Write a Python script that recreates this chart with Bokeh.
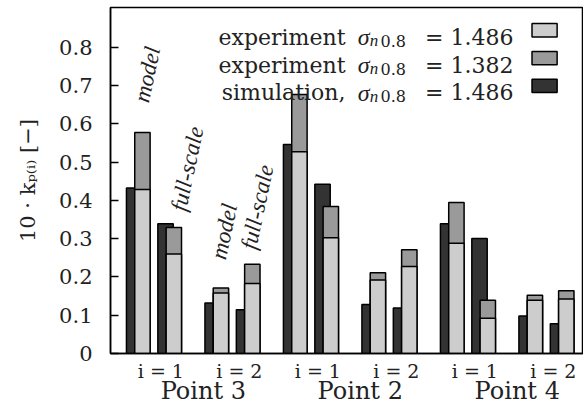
from bokeh.plotting import figure
from bokeh.models import Label, Range1d, FixedTicker, LinearAxis
from bokeh.embed import file_html
from bokeh.resources import INLINE

# ---- data ----
points = ["Point 3", "Point 2", "Point 4"]
i_values = ["1", "2"]
scales = ["model", "full-scale"]
# order: Point 3 (i=1 model, i=1 full, i=2 model, i=2 full), Point 2 (...), Point 4 (...)
simulation_1486 = [0.432, 0.339, 0.132, 0.114, 0.546, 0.442, 0.128, 0.119, 0.339, 0.300, 0.098, 0.078]
experiment_1486 = [0.428, 0.260, 0.158, 0.183, 0.527, 0.302, 0.192, 0.227, 0.288, 0.092, 0.139, 0.142]
experiment_1382 = [0.577, 0.329, 0.171, 0.233, 0.676, 0.384, 0.211, 0.271, 0.394, 0.139, 0.152, 0.164]
y_ticks = [0, 0.1, 0.2, 0.3, 0.4, 0.5, 0.6, 0.7, 0.8]
y_tick_labels = ["0", "0.1", "0.2", "0.3", "0.4", "0.5", "0.6", "0.7", "0.8"]
y_axis_title = "10 · kₚ₍ᵢ₎ [−]"
legend_labels = ["experiment", "experiment", "simulation,"]
legend_values = ["1.486", "1.382", "1.486"]

DARK = "#333333"
MID = "#9a9a9a"
LIGHT = "#cdcdcd"
TXT = "#222222"

# x position of each model/full-scale pair
x_pair = []
for pi_ in range(len(points)):
    for ii in range(len(i_values)):
        for mi in range(len(scales)):
            x_pair.append(5.0 * pi_ + 2.5 * ii + mi)

off = 0.132
bw = 0.49
x_dark = [x - off for x in x_pair]
x_exp = [x + off for x in x_pair]

p = figure(width=583, height=410, x_range=Range1d(-0.885, 14.18), y_range=Range1d(0, 0.9034),
           output_backend="svg", toolbar_location=None,
           min_border_left=110, min_border_right=0, min_border_top=7, min_border_bottom=57)
p.background_fill_color = "white"
p.border_fill_color = "white"
p.outline_line_color = "black"
p.outline_line_width = 1.5
p.xgrid.grid_line_color = None
p.ygrid.grid_line_color = None

p.vbar(x=x_dark, top=simulation_1486, width=bw, fill_color=DARK, line_color="black", line_width=1.5)
p.vbar(x=x_exp, top=experiment_1382, width=bw, fill_color=MID, line_color="black", line_width=1.5)
p.vbar(x=x_exp, top=experiment_1486, width=bw, fill_color=LIGHT, line_color="black", line_width=1.5)

# y axis
p.yaxis.ticker = FixedTicker(ticks=y_ticks)
p.yaxis.major_label_overrides = dict(zip(y_ticks, y_tick_labels))
p.yaxis.major_tick_in = 8
p.yaxis.major_tick_out = 0
p.yaxis.minor_tick_line_color = None
p.yaxis.major_label_standoff = 18
p.yaxis.major_label_text_font = "DejaVu Serif"
p.yaxis.major_label_text_font_size = "21px"
p.yaxis.major_label_text_color = TXT
p.yaxis.axis_line_width = 1.5
p.yaxis.major_tick_line_width = 1.5
p.yaxis.axis_label = y_axis_title
p.yaxis.axis_label_text_font = "DejaVu Serif"
p.yaxis.axis_label_text_font_style = "normal"
p.yaxis.axis_label_text_font_size = "21px"
p.yaxis.axis_label_text_color = TXT
p.yaxis.axis_label_standoff = 16

# bottom axis 1: i = 1 / i = 2
i_tick_x, i_tick_text = [], []
pt_tick_x, pt_tick_text = [], []
for pi_, name in enumerate(points):
    for ii, iv in enumerate(i_values):
        i_tick_x.append(round(5.0 * pi_ + 2.5 * ii + 0.72, 2))
        i_tick_text.append("i = " + iv)
    pt_tick_x.append(round(5.0 * pi_ + 2.07, 2))
    pt_tick_text.append(name)

p.xaxis.ticker = FixedTicker(ticks=i_tick_x)
p.xaxis.major_label_overrides = dict(zip(i_tick_x, i_tick_text))
p.xaxis.major_tick_line_color = None
p.xaxis.minor_tick_line_color = None
p.xaxis.major_tick_in = 0
p.xaxis.major_tick_out = 0
p.xaxis.major_label_standoff = 6
p.xaxis.axis_label_standoff = 0
p.xaxis.major_label_text_font = "DejaVu Serif"
p.xaxis.major_label_text_font_size = "19px"
p.xaxis.major_label_text_color = TXT
p.xaxis.axis_line_width = 1.5

# bottom axis 2: point names
ax2 = LinearAxis(ticker=FixedTicker(ticks=pt_tick_x),
                 major_label_overrides=dict(zip(pt_tick_x, pt_tick_text)),
                 axis_line_color=None, major_tick_line_color=None, minor_tick_line_color=None,
                 major_tick_in=0, major_tick_out=0, axis_label_standoff=0,
                 major_label_standoff=-8, major_label_text_font="DejaVu Serif",
                 major_label_text_font_size="24px", major_label_text_color=TXT)
p.add_layout(ax2, "below")


def lab(x, y, text, size, font="DejaVu Serif", style="normal", align="left", angle=0.0,
        baseline="alphabetic"):
    p.add_layout(Label(x=x, y=y, text=text, text_font=font, text_font_size=size,
                       text_font_style=style, text_align=align, text_baseline=baseline,
                       angle=angle, angle_units="deg", text_color=TXT))

# rotated scale labels (Point 3 only)
lab(0.10, 0.657, scales[0], "23px", font="Liberation Serif", style="italic", angle=78)
lab(1.28, 0.373, scales[1], "23px", font="Liberation Serif", style="italic", angle=78)
lab(2.55, 0.247, scales[0], "23px", font="Liberation Serif", style="italic", angle=78)
lab(3.51, 0.273, scales[1], "23px", font="Liberation Serif", style="italic", angle=78)

# legend (text on the left, swatch on the right)
legend_base = [0.8256, 0.7525, 0.6807]
legend_box_y = [0.844, 0.771, 0.699]
legend_colors = [LIGHT, MID, DARK]
for r in range(3):
    yb = legend_base[r]
    lab(6.60, yb, legend_labels[r], "22px", align="right")
    lab(7.363, yb, "σ", "24px", font="Liberation Serif", style="italic", align="right")
    lab(7.375, yb - 0.009, "n", "17px", font="Liberation Serif", style="italic")
    lab(7.713, yb - 0.009, "0.8", "16px")
    lab(11.95, yb, "= " + legend_values[r], "22px", align="right")
p.rect(x=[12.94] * 3, y=legend_box_y, width=0.8, height=0.0347,
       fill_color=legend_colors, line_color="black", line_width=1.5)

open("out.html", "w").write(file_html(p, INLINE))
